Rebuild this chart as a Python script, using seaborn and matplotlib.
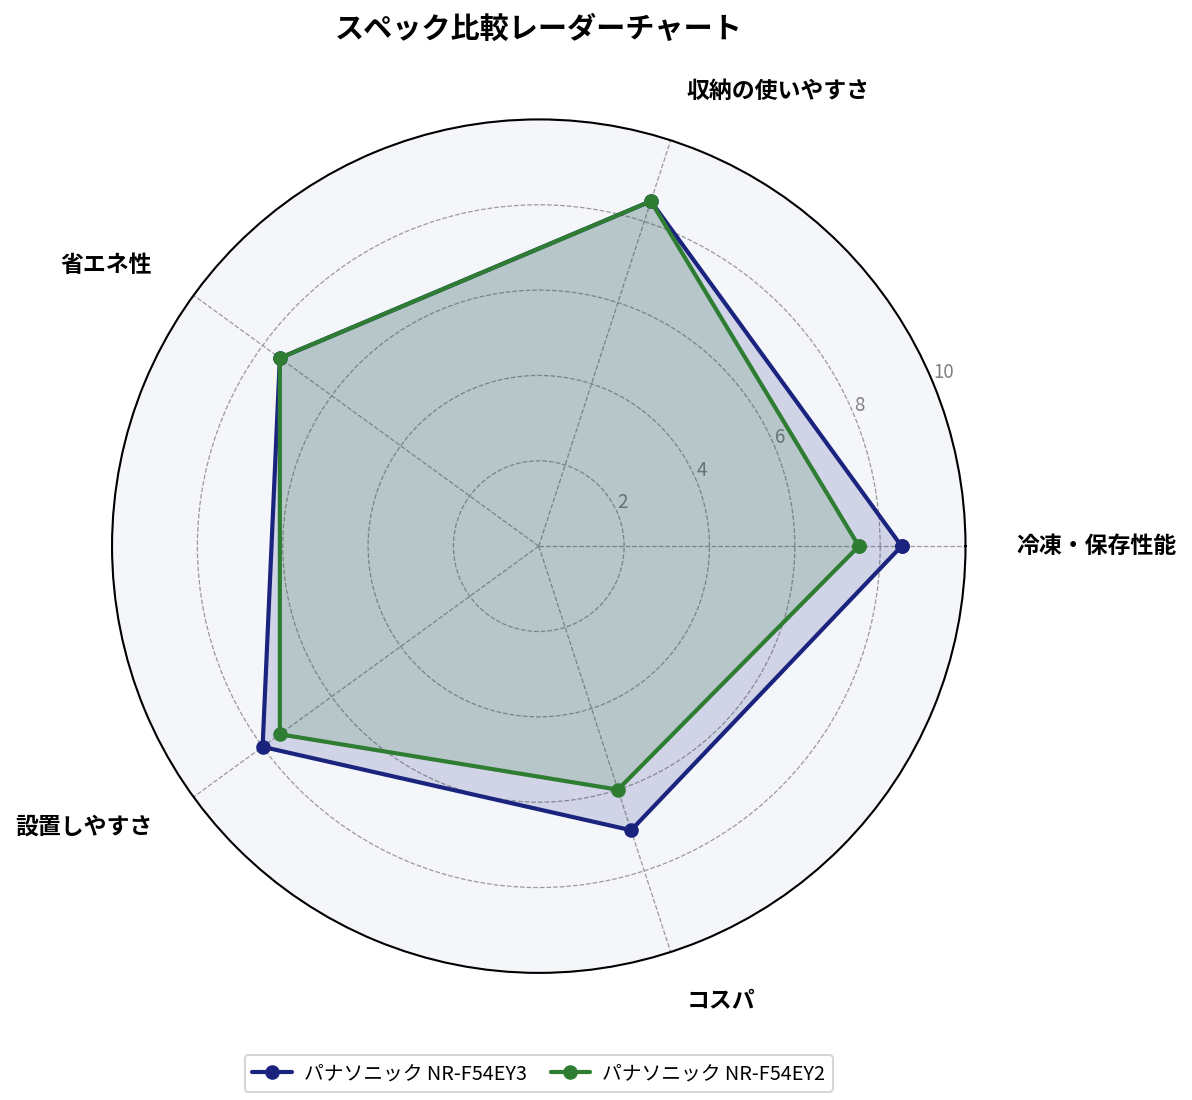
import numpy as np
import pandas as pd
import matplotlib
matplotlib.use("Agg")
import matplotlib.pyplot as plt
import seaborn as sns

categories = ["冷凍・保存性能", "収納の使いやすさ", "省エネ性", "設置しやすさ", "コスパ"]
series_names = ["パナソニック NR-F54EY3", "パナソニック NR-F54EY2"]
values_ey3 = [8.5, 8.5, 7.5, 8.0, 7.0]
values_ey2 = [7.5, 8.5, 7.5, 7.5, 6.0]
r_ticks = [2, 4, 6, 8, 10]
colors = ["#1a237e", "#2e7d32"]

sns.set_style("white")
plt.rcParams['font.family'] = ['Noto Sans CJK JP', 'DejaVu Sans']
plt.rcParams['text.color'] = 'black'

fig = plt.figure(figsize=(1192 / 150, 1100 / 150), dpi=150)
ax = fig.add_axes([0.094, 0.1155, 0.716, 0.776], projection="polar")
ax.set_facecolor("#f5f6fa")

n = len(categories)
angles = np.linspace(0, 2 * np.pi, n, endpoint=False)
angles_closed = np.concatenate([angles, [2 * np.pi]])

for name, vals, col in zip(series_names, [values_ey3, values_ey2], colors):
    v = list(vals) + [vals[0]]
    df = pd.DataFrame({"theta": angles_closed, "r": v})
    sns.lineplot(data=df, x="theta", y="r", ax=ax, color=col, linewidth=2,
                 marker="o", markersize=7, markeredgewidth=0, sort=False,
                 label=name)
    ax.fill(angles_closed, v, color=col, alpha=0.16, linewidth=0)

ax.set_ylim(0, 10)
ax.set_yticks(r_ticks)
ax.set_yticklabels([str(t) for t in r_ticks], color="#808080", fontsize=9)
ax.set_rlabel_position(22.5)
ax.set_xticks(angles)
ax.set_xticklabels([])
ax.set_xlabel("")
ax.set_ylabel("")
ax.grid(True, color="#9a9a9a", linestyle="--", linewidth=0.6)
ax.spines["polar"].set_color("black")
ax.spines["polar"].set_linewidth(1.0)

for ang, lab in zip(angles, categories):
    c = np.cos(ang)
    ha = "left" if c > 0.01 else ("right" if c < -0.01 else "center")
    ax.text(ang, 11.2, lab, ha=ha, va="center", fontsize=11, fontweight="bold",
            color="black")

ax.text(0.5, 1.1066, "スペック比較レーダーチャート", transform=ax.transAxes,
        ha="center", va="center", fontsize=14, fontweight="bold", color="black")

leg = ax.legend(loc="upper center", bbox_to_anchor=(0.5, -0.085), ncol=2,
                fontsize=9.5, frameon=True, edgecolor="#cccccc", fancybox=True,
                columnspacing=1.2, handletextpad=0.6)
for t in leg.get_texts():
    t.set_color("black")

fig.savefig("out.png", dpi=150)
